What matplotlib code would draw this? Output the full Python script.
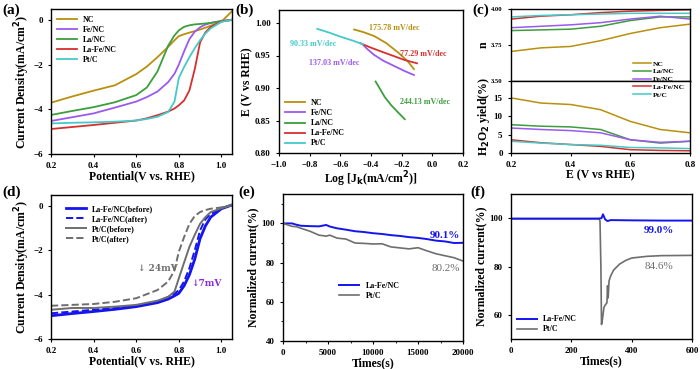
import numpy as np
import matplotlib
matplotlib.use("Agg")
import matplotlib.pyplot as plt
from matplotlib.ticker import AutoMinorLocator

plt.rcParams['font.family'] = ['Liberation Serif', 'DejaVu Serif']
plt.rcParams['font.weight'] = 'bold'
plt.rcParams['axes.labelweight'] = 'bold'
plt.rcParams['axes.linewidth'] = 1.0
plt.rcParams['xtick.labelsize'] = 6.5
plt.rcParams['ytick.labelsize'] = 6.5
plt.rcParams['xtick.major.size'] = 2.5
plt.rcParams['ytick.major.size'] = 2.5
plt.rcParams['xtick.minor.size'] = 1.5
plt.rcParams['ytick.minor.size'] = 1.5

# colours per sample
samples = ['NC', 'Fe/NC', 'La/NC', 'La-Fe/NC', 'Pt/C']
colors = {'NC': '#B8900E', 'Fe/NC': '#9B59F0', 'La/NC': '#3C9E3C',
          'La-Fe/NC': '#D6302E', 'Pt/C': '#45C9C9'}

# (a) LSV curves
lsv_v = [0.2, 0.3, 0.4, 0.5, 0.6, 0.65, 0.7, 0.75, 0.78, 0.8, 0.825, 0.85, 0.875, 0.9, 0.925, 0.95, 1.0, 1.05]
lsv_j = {
    'NC':       [-3.70, -3.42, -3.16, -2.92, -2.42, -2.08, -1.66, -1.20, -0.90, -0.72, -0.63, -0.56, -0.49, -0.42, -0.34, -0.25, -0.07, 0.40],
    'Fe/NC':    [-4.52, -4.35, -4.18, -3.92, -3.65, -3.45, -3.20, -2.78, -2.40, -2.00, -1.40, -0.85, -0.52, -0.32, -0.20, -0.13, -0.03, 0.02],
    'La/NC':    [-4.25, -4.07, -3.90, -3.68, -3.36, -3.02, -2.30, -1.15, -0.68, -0.46, -0.30, -0.23, -0.19, -0.17, -0.15, -0.12, -0.05, 0.00],
    'La-Fe/NC': [-4.88, -4.79, -4.70, -4.60, -4.50, -4.40, -4.26, -4.10, -3.96, -3.82, -3.60, -3.15, -2.20, -1.00, -0.55, -0.30, -0.06, 0.02],
    'Pt/C':     [-4.63, -4.60, -4.58, -4.55, -4.50, -4.43, -4.33, -4.12, -3.65, -2.60, -2.10, -1.66, -1.26, -0.90, -0.60, -0.37, -0.08, 0.02],
}

# (b) Tafel plots
tafel_x = {
    'NC':       [-0.51, -0.45, -0.38, -0.30, -0.22, -0.16, -0.12],
    'Fe/NC':    [-0.45, -0.42, -0.38, -0.32, -0.25, -0.18, -0.12],
    'La/NC':    [-0.37, -0.34, -0.31, -0.27, -0.23, -0.18],
    'La-Fe/NC': [-0.47, -0.40, -0.32, -0.25, -0.18, -0.10],
    'Pt/C':     [-0.75, -0.67, -0.60, -0.52, -0.45],
}
tafel_e = {
    'NC':       [0.990, 0.986, 0.980, 0.969, 0.954, 0.941, 0.929],
    'Fe/NC':    [0.966, 0.959, 0.951, 0.942, 0.934, 0.926, 0.920],
    'La/NC':    [0.910, 0.898, 0.886, 0.874, 0.864, 0.852],
    'La-Fe/NC': [0.969, 0.962, 0.955, 0.949, 0.943, 0.938],
    'Pt/C':     [0.991, 0.985, 0.979, 0.973, 0.967],
}
tafel_labels = {'NC': '175.78 mV/dec', 'Fe/NC': '137.03 mV/dec', 'La/NC': '244.13 mV/dec',
                'La-Fe/NC': '77.29 mV/dec', 'Pt/C': '90.33 mV/dec'}
tafel_label_pos = {'NC': (-0.25, 0.992), 'Fe/NC': (-0.64, 0.938), 'La/NC': (-0.05, 0.879),
                   'La-Fe/NC': (-0.06, 0.953), 'Pt/C': (-0.78, 0.968)}

# (c) electron transfer number and H2O2 yield
rrde_v = [0.2, 0.3, 0.4, 0.5, 0.6, 0.7, 0.8]
n_vals = {
    'NC':       [3.705, 3.730, 3.740, 3.780, 3.830, 3.870, 3.895],
    'La/NC':    [3.850, 3.855, 3.860, 3.880, 3.920, 3.945, 3.945],
    'Fe/NC':    [3.870, 3.880, 3.890, 3.905, 3.930, 3.950, 3.930],
    'La-Fe/NC': [3.930, 3.950, 3.960, 3.975, 3.985, 3.990, 3.995],
    'Pt/C':     [3.945, 3.955, 3.960, 3.965, 3.970, 3.970, 3.970],
}
h2o2_vals = {
    'NC':       [15.0, 13.6, 13.2, 11.8, 8.6, 6.4, 5.5],
    'La/NC':    [7.7, 7.3, 7.1, 6.4, 3.6, 2.7, 3.2],
    'Fe/NC':    [6.8, 6.4, 6.1, 5.5, 3.6, 2.9, 3.2],
    'La-Fe/NC': [3.6, 2.8, 2.3, 1.8, 0.9, 0.7, 0.6],
    'Pt/C':     [3.2, 2.7, 2.3, 2.1, 1.5, 1.4, 1.2],
}
rrde_order = ['NC', 'La/NC', 'Fe/NC', 'La-Fe/NC', 'Pt/C']

# (d) LSV before / after durability
dur_v = [0.2, 0.3, 0.4, 0.5, 0.6, 0.7, 0.75, 0.78, 0.8, 0.825, 0.85, 0.875, 0.9, 0.925, 0.95, 1.0, 1.05]
dur_j = {
    'La-Fe/NC(before)': [-4.95, -4.85, -4.76, -4.66, -4.54, -4.36, -4.20, -4.05, -3.94, -3.60, -3.10, -2.40, -1.47, -0.90, -0.50, -0.12, 0.05],
    'La-Fe/NC(after)':  [-4.84, -4.76, -4.68, -4.60, -4.50, -4.30, -4.10, -3.95, -3.80, -3.40, -2.80, -2.00, -1.10, -0.60, -0.35, -0.10, 0.05],
    'Pt/C(before)':     [-4.68, -4.60, -4.60, -4.54, -4.46, -4.27, -4.10, -3.86, -3.27, -2.55, -1.84, -1.30, -0.80, -0.50, -0.27, -0.10, 0.05],
    'Pt/C(after)':      [-4.50, -4.46, -4.42, -4.32, -4.16, -3.79, -3.41, -2.90, -2.07, -1.40, -0.80, -0.45, -0.27, -0.18, -0.12, -0.06, 0.05],
}
dur_style = {
    'La-Fe/NC(before)': ('#1414F0', '-', 2.0),
    'La-Fe/NC(after)':  ('#1414F0', '--', 1.4),
    'Pt/C(before)':     ('#6E6E6E', '-', 1.4),
    'Pt/C(after)':      ('#6E6E6E', '--', 1.4),
}

# (e) chronoamperometry
ca_t = [0, 1000, 1500, 2000, 3000, 4000, 4800, 5200, 6000, 7000, 8000, 9000, 10000, 11000,
        12000, 13000, 14000, 15000, 16000, 17000, 18000, 19000, 20000]
ca_lafe = [100.0, 100.0, 99.3, 98.8, 98.6, 98.5, 99.2, 98.4, 97.5, 96.8, 96.0, 95.6, 95.0, 94.6,
           94.0, 93.6, 93.0, 92.6, 92.0, 91.2, 90.8, 90.0, 90.1]
ca_pt = [100.0, 98.5, 98.3, 97.5, 96.0, 94.0, 93.5, 94.0, 92.5, 92.0, 90.0, 89.8, 89.5, 89.6,
         88.0, 87.5, 87.0, 87.6, 86.0, 84.5, 83.5, 82.5, 80.8]

# (f) methanol tolerance
mt_t = [0, 100, 200, 290, 300, 305, 312, 320, 330, 400, 500, 600]
mt_lafe = [99.8, 99.8, 99.8, 99.8, 100.0, 101.6, 99.5, 98.8, 99.2, 99.1, 99.0, 99.0]
mt_t2 = [0, 100, 200, 290, 295, 298, 300, 303, 308, 312, 318, 320, 322, 325, 330, 340, 360, 380, 400, 450, 500, 600]
mt_pt = [99.8, 99.8, 99.8, 99.8, 99.0, 80.0, 56.0, 58.0, 63.0, 64.0, 65.0, 72.0, 67.0, 74.0, 76.0,
         78.5, 81.0, 82.5, 83.5, 84.2, 84.5, 84.6]

fig = plt.figure(figsize=(7, 3.69), dpi=100)

def frac(l, r, t, b):
    return [l / 700, 1 - b / 369, (r - l) / 700, (b - t) / 369]

lab = dict(fontsize=8.5, fontweight='bold')
leg_kw = dict(frameon=False, prop={'weight': 'bold', 'size': 5.8}, handlelength=2.5,
              labelspacing=0.25, borderaxespad=0.3)

# (a)
ax = fig.add_axes(frac(51, 232, 9, 154))
for s in samples:
    ax.plot(lsv_v, lsv_j[s], color=colors[s], lw=1.3, label=s)
ax.set_xlim(0.2, 1.05)
ax.set_ylim(-6, 0.5)
ax.set_xticks([0.2, 0.4, 0.6, 0.8, 1.0])
ax.set_yticks([-6, -4, -2, 0])
ax.set_xlabel('Potential(V vs. RHE)', labelpad=0, **lab)
ax.set_ylabel('Current Density(mA/cm$^\\mathbf{2}$)', labelpad=1, **lab)
ax.legend(loc='upper left', bbox_to_anchor=(0.0, 0.99), **leg_kw)

# (b)
ax = fig.add_axes(frac(279, 463, 10, 153))
for s in samples:
    ax.plot(tafel_x[s], tafel_e[s], color=colors[s], lw=1.3, label=s)
    ax.text(*tafel_label_pos[s], tafel_labels[s], color=colors[s], fontsize=5.8,
            fontweight='bold', ha='center', va='center')
ax.set_xlim(-1.0, 0.2)
ax.set_ylim(0.80, 1.02)
ax.set_xticks([-1.0, -0.8, -0.6, -0.4, -0.2, 0.0, 0.2])
ax.set_yticks([0.80, 0.85, 0.90, 0.95, 1.00])
ax.set_xlabel('Log [J$_\\mathbf{k}$(mA/cm$^\\mathbf{2}$)]', labelpad=0, **lab)
ax.set_ylabel('E (V vs RHE)', labelpad=1, **lab)
ax.legend(loc='lower left', **leg_kw)

# (c)
ax_n = fig.add_axes(frac(511, 690, 9, 81))
ax_h = fig.add_axes(frac(511, 690, 81, 153))
for s in rrde_order:
    ax_n.plot(rrde_v, n_vals[s], color=colors[s], lw=1.1)
    ax_h.plot(rrde_v, h2o2_vals[s], color=colors[s], lw=1.1, label=s)
ax_n.set_xlim(0.2, 0.8)
ax_n.set_ylim(3.5, 4.0)
ax_n.set_yticks([3.50, 3.75, 4.00])
ax_n.set_yticklabels(['3.50', '3.75', '4.00'], fontsize=4.8)
ax_n.set_xticks([])
ax_n.set_ylabel('n', labelpad=1, **lab)
ax_h.set_xlim(0.2, 0.8)
ax_h.set_ylim(0, 19.6)
ax_h.set_yticks([0, 5, 10, 15])
ax_h.set_xticks([0.2, 0.4, 0.6, 0.8])
ax_h.set_xlabel('E (V vs RHE)', labelpad=0, **lab)
ax_h.set_ylabel('H$_\\mathbf{2}$O$_\\mathbf{2}$ yield(%)', labelpad=1, **lab)
ax_h.legend(loc='upper right', bbox_to_anchor=(1.01, 1.38), frameon=False,
            prop={'weight': 'bold', 'size': 5.4}, handlelength=2.4, labelspacing=0.2,
            handletextpad=0.3)

# (d)
ax = fig.add_axes(frac(51, 232, 195, 339))
for name, jj in dur_j.items():
    c, ls, lw = dur_style[name]
    ax.plot(dur_v, jj, color=c, ls=ls, lw=lw, label=name)
ax.set_xlim(0.2, 1.05)
ax.set_ylim(-6, 0.5)
ax.set_xticks([0.2, 0.4, 0.6, 0.8, 1.0])
ax.set_yticks([-6, -4, -2, 0])
ax.set_xlabel('Potential(V vs. RHE)', labelpad=0, **lab)
ax.set_ylabel('Current Density(mA/cm$^\\mathbf{2}$)', labelpad=1, **lab)
ax.legend(loc='upper left', bbox_to_anchor=(0.05, 0.97), **leg_kw)
ax.text(0.70, -2.8, '\u2193 24mV', color='#6E6E6E', fontsize=6.5, fontweight='bold',
        ha='center', va='center', family=['DejaVu Serif'])
ax.text(0.93, -3.5, '\u21937mV', color='#8A2BE2', fontsize=6.5, fontweight='bold',
        ha='center', va='center', family=['DejaVu Serif'])

# (e)
ax = fig.add_axes(frac(283, 463, 194, 341))
ax.plot(ca_t, ca_lafe, color='#1414F0', lw=1.4, label='La-Fe/NC')
ax.plot(ca_t, ca_pt, color='#6E6E6E', lw=1.2, label='Pt/C')
ax.set_xlim(0, 20000)
ax.set_ylim(40, 115)
ax.set_xticks([0, 5000, 10000, 15000, 20000])
ax.set_yticks([40, 60, 80, 100])
ax.xaxis.set_minor_locator(AutoMinorLocator(2))
ax.yaxis.set_minor_locator(AutoMinorLocator(2))
ax.set_xlabel('Times(s)', labelpad=0, **lab)
ax.set_ylabel('Normalized current(%)', labelpad=1, **lab)
ax.text(19700, 93.8, '90.1%', color='#1414F0', fontsize=8, fontweight='bold', ha='right', va='center')
ax.text(19700, 77.0, '80.2%', color='#6E6E6E', fontsize=8, fontweight='normal', ha='right', va='center')
ax.legend(loc='upper left', bbox_to_anchor=(0.28, 0.44), **leg_kw)

# (f)
ax = fig.add_axes(frac(511, 692, 194, 339))
ax.plot(mt_t2, mt_pt, color='#6E6E6E', lw=1.2, label='Pt/C')
ax.plot(mt_t, mt_lafe, color='#1414F0', lw=1.4, label='La-Fe/NC')
ax.set_xlim(0, 600)
ax.set_ylim(50, 110)
ax.set_xticks([0, 200, 400, 600])
ax.set_yticks([60, 80, 100])
ax.set_xlabel('Times(s)', labelpad=0, **lab)
ax.set_ylabel('Normalized current(%)', labelpad=1, **lab)
ax.text(490, 95.0, '99.0%', color='#1414F0', fontsize=8, fontweight='bold', ha='center', va='center')
ax.text(490, 79.8, '84.6%', color='#6E6E6E', fontsize=8, fontweight='normal', ha='center', va='center')
h, l = ax.get_legend_handles_labels()
ax.legend(h[::-1], l[::-1], loc='lower left', **leg_kw)

# panel letters
for txt, x, y in [('(a)', 2, 4), ('(b)', 235, 4), ('(c)', 472, 4),
                  ('(d)', 2, 186), ('(e)', 238, 186), ('(f)', 470, 186)]:
    fig.text(x / 700, 1 - y / 369, txt, fontsize=11, fontweight='bold', va='top', ha='left')

fig.savefig('out.png', dpi=100)
